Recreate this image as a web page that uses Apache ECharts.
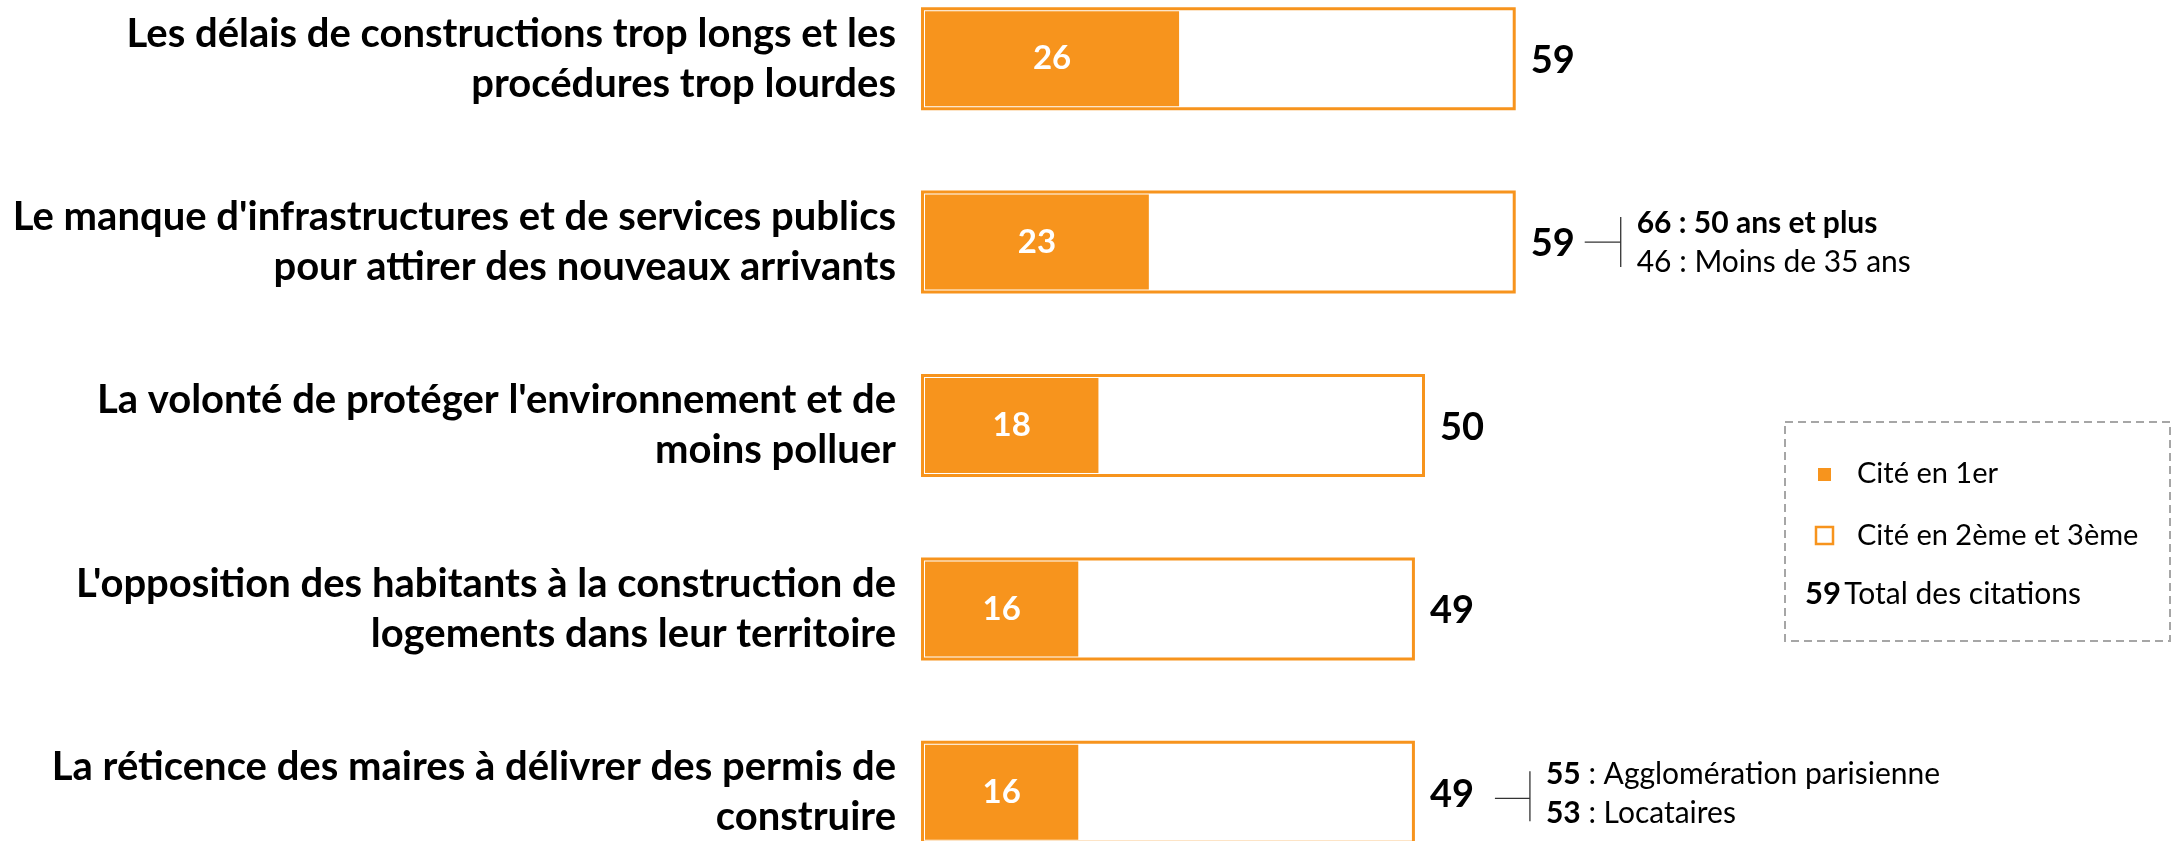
<!DOCTYPE html>
<html>
<head>
<meta charset="utf-8">
<script src="https://cdn.jsdelivr.net/npm/echarts@6/dist/echarts.min.js"></script>
<style>
  html, body { margin: 0; padding: 0; background: #fff; }
  #chart { width: 2184px; height: 841px; }
</style>
</head>
<body>
<div id="chart"></div>
<script>
const categories = [
  "Les délais de constructions trop longs et les\nprocédures trop lourdes",
  "Le manque d'infrastructures et de services publics\npour attirer des nouveaux arrivants",
  "La volonté de protéger l'environnement et de\nmoins polluer",
  "L'opposition des habitants à la construction de\nlogements dans leur territoire",
  "La réticence des maires à délivrer des permis de\nconstruire"
];
const firstCited = [26, 23, 18, 16, 16];
const totalCited = [59, 59, 50, 49, 49];
const seriesNames = ["Cité en 1er", "Cité en 2ème et 3ème"];
const totalLegendValue = "59";
const totalLegendText = "Total des citations";

// detail next to some totals: row index, then [bold part, normal part] per line
const noteRows = [1, 4];
const noteLines = [
  [["66 : 50 ans et plus", ""], ["", "46 : Moins de 35 ans"]],
  [["55", " : Agglomération parisienne"], ["53", " : Locataires"]]
];

const ORANGE = "#F7941D";
const FONT = "Lato, 'Open Sans', sans-serif";

// offsets of the connector and text from the end of the total bar (px)
const noteLayout = [
  { x0: 69, x1: 105, tx: 121, lineDy: 0, vDy: 0, textDy: 1 },
  { x0: 80, x1: 115, tx: 131, lineDy: 6, vDy: 4, textDy: 2 }
];

const chart = echarts.init(document.getElementById("chart"));

chart.setOption({
  animation: false,
  backgroundColor: "#fff",
  grid: { left: 921, top: -33, width: 1260, height: 917, outerBoundsMode: "none" },
  xAxis: { type: "value", min: 0, max: 125, show: false },
  yAxis: {
    type: "category",
    data: categories,
    inverse: true,
    axisLine: { show: false },
    axisTick: { show: false },
    splitLine: { show: false },
    axisLabel: {
      margin: 25,
      color: "#000",
      fontFamily: FONT,
      fontWeight: "bold",
      fontSize: 40,
      lineHeight: 50,
      align: "right",
      padding: [4, 0, 0, 0]
    }
  },
  series: [
    {
      name: seriesNames[0],
      type: "bar",
      data: firstCited,
      barWidth: 103,
      barGap: "-100%",
      z: 2,
      itemStyle: { color: ORANGE, borderColor: "#fff", borderWidth: 4 },
      label: {
        show: true,
        position: "inside",
        color: "#fff",
        fontFamily: FONT,
        fontWeight: "bold",
        fontSize: 33
      }
    },
    {
      name: seriesNames[1],
      type: "bar",
      data: totalCited,
      barWidth: 103,
      z: 3,
      itemStyle: { color: "rgba(255,255,255,0)", borderColor: ORANGE, borderWidth: 3 },
      label: {
        show: true,
        position: "right",
        distance: 15,
        offset: [0, 2],
        color: "#000",
        fontFamily: FONT,
        fontWeight: "bold",
        fontSize: 38
      }
    }
  ]
});

// legend box + notes, placed from the chart's own scales
const richStyles = {
  b: { fontFamily: FONT, fontWeight: "bold", fontSize: 30, fill: "#000", lineHeight: 39 },
  n: { fontFamily: FONT, fontSize: 30, fill: "#000", lineHeight: 39 }
};

const graphics = [
  {
    type: "rect",
    shape: { x: 1785, y: 422, width: 385, height: 219 },
    style: { fill: "none", stroke: "#A6A6A6", lineWidth: 2, lineDash: [8, 5] }
  },
  { type: "rect", shape: { x: 1818, y: 468, width: 13, height: 13 }, style: { fill: ORANGE } },
  {
    type: "text", x: 1857, y: 474,
    style: { text: seriesNames[0], font: "29px " + FONT, fill: "#000", verticalAlign: "middle" }
  },
  {
    type: "rect", shape: { x: 1816, y: 527, width: 17, height: 17 },
    style: { fill: "#fff", stroke: ORANGE, lineWidth: 2.5 }
  },
  {
    type: "text", x: 1857, y: 536,
    style: { text: seriesNames[1], font: "29px " + FONT, fill: "#000", verticalAlign: "middle" }
  },
  {
    type: "text", x: 1805, y: 594,
    style: {
      text: "{v|" + totalLegendValue + "} {n|" + totalLegendText + "}",
      verticalAlign: "middle",
      rich: {
        v: { fontFamily: FONT, fontWeight: "bold", fontSize: 31, fill: "#000" },
        n: { fontFamily: FONT, fontSize: 30, fill: "#000" }
      }
    }
  }
];

noteRows.forEach(function (row, k) {
  const p = chart.convertToPixel({ gridIndex: 0 }, [totalCited[row], row]);
  const L = noteLayout[k];
  const text = noteLines[k].map(function (parts) {
    let s = "";
    if (parts[0]) s += "{b|" + parts[0] + "}";
    if (parts[1]) s += "{n|" + parts[1] + "}";
    return s;
  }).join("\n");
  graphics.push({
    type: "line",
    shape: { x1: p[0] + L.x0, y1: p[1] + L.lineDy, x2: p[0] + L.x1, y2: p[1] + L.lineDy },
    style: { stroke: "#333", lineWidth: 1.3 }
  });
  graphics.push({
    type: "line",
    shape: { x1: p[0] + L.x1, y1: p[1] + L.vDy - 25, x2: p[0] + L.x1, y2: p[1] + L.vDy + 25 },
    style: { stroke: "#333", lineWidth: 1.3 }
  });
  graphics.push({
    type: "text",
    x: p[0] + L.tx,
    y: p[1] + L.textDy,
    style: { text: text, rich: richStyles, verticalAlign: "middle" }
  });
});

chart.setOption({ graphic: graphics });
</script>
</body>
</html>
